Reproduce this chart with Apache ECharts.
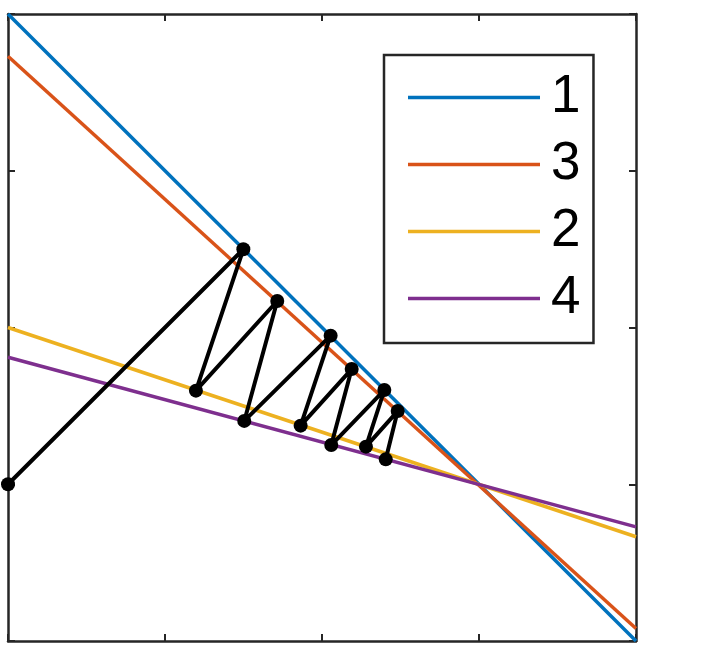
<!DOCTYPE html>
<html>
<head>
<meta charset="utf-8">
<script src="https://cdn.jsdelivr.net/npm/echarts@6/dist/echarts.min.js"></script>
<style>
html,body{margin:0;padding:0;background:#fff;}
#c{width:708px;height:650px;}
</style>
</head>
<body>
<div id="c"></div>
<script>
// Line end points (x from 0 to 4)
const lineX = [0, 4];
const line1 = [4.0, 0.0];
const line3 = [3.73, 0.08];
const line2 = [2.0, 0.665];
const line4 = [1.81, 0.728];
const legendNames = ['1', '3', '2', '4'];
// Black iterate path
const pathX = [0.0, 1.499, 1.197, 1.715, 1.505, 2.055, 1.864, 2.189, 2.059, 2.397, 2.280, 2.482, 2.406];
const pathY = [1.0, 2.499, 1.597, 2.169, 1.404, 1.948, 1.374, 1.735, 1.250, 1.601, 1.240, 1.467, 1.159];

const colors = {'1': '#0072BD', '3': '#D95319', '2': '#EDB120', '4': '#7E2F8E'};
const lines = {'1': line1, '3': line3, '2': line2, '4': line4};

const axisCommon = {
  type: 'value', min: 0, max: 4, interval: 1,
  axisLabel: {show: false},
  splitLine: {show: false},
  axisLine: {show: true, onZero: false, lineStyle: {color: '#262626', width: 2.5}},
  axisTick: {show: true, inside: true, length: 7, lineStyle: {color: '#262626', width: 2}}
};

const series = legendNames.map(n => ({
  name: n, type: 'line', symbol: 'none', silent: true,
  data: lineX.map((x, i) => [x, lines[n][i]]),
  lineStyle: {color: colors[n], width: 3.5},
  itemStyle: {color: colors[n]},
  animation: false
}));
series.push({
  name: 'path', type: 'line', symbol: 'circle', symbolSize: 14,
  data: pathX.map((x, i) => [x, pathY[i]]),
  lineStyle: {color: '#000', width: 4},
  itemStyle: {color: '#000'},
  z: 5, animation: false
});

const chart = echarts.init(document.getElementById('c'), null, {renderer: 'canvas'});
chart.setOption({
  animation: false,
  backgroundColor: '#fff',
  grid: {left: 8, top: 14, width: 628, height: 627, containLabel: false},
  xAxis: [
    Object.assign({position: 'bottom'}, axisCommon),
    Object.assign({position: 'top'}, axisCommon)
  ],
  yAxis: [
    Object.assign({position: 'left'}, axisCommon),
    Object.assign({position: 'right'}, axisCommon)
  ],
  legend: {
    data: legendNames,
    orient: 'vertical',
    left: 384, top: 55,
    padding: [16, 13, 18, 24],
    itemGap: 14,
    itemWidth: 132, itemHeight: 3.5,
    icon: 'rect',
    borderColor: '#262626', borderWidth: 2.5,
    backgroundColor: '#fff',
    selectedMode: false,
    textStyle: {fontFamily: 'Liberation Sans, Arial, sans-serif', fontSize: 53, color: '#000', padding: [0, 0, 0, 6]}
  },
  series: series
});
</script>
</body>
</html>
